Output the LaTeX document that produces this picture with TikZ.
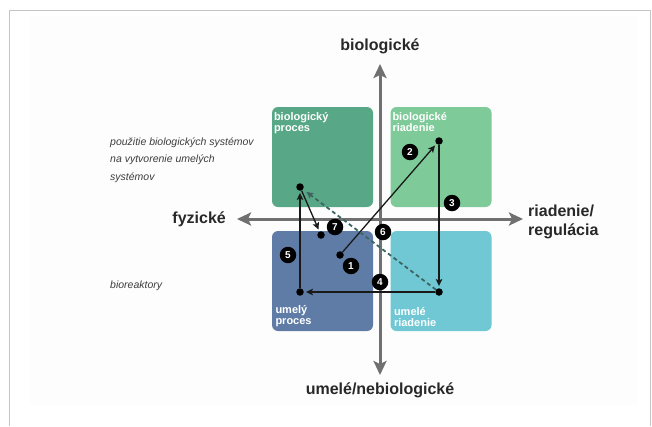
\documentclass[tikz,border=0pt]{standalone}
\usepackage{fontspec}
\setmainfont{Liberation Sans}
\usepackage{xcolor}
\usetikzlibrary{arrows,arrows.meta,positioning,calc}
\definecolor{bioproc}{RGB}{88,168,135}
\definecolor{bioctrl}{RGB}{126,202,153}
\definecolor{artproc}{RGB}{95,124,166}
\definecolor{artctrl}{RGB}{112,200,212}
\definecolor{axisgray}{RGB}{112,112,112}
\definecolor{framegray}{RGB}{196,196,196}
\definecolor{dashteal}{RGB}{62,100,98}
\definecolor{darktext}{RGB}{40,40,40}

\begin{document}
\begin{tikzpicture}[x=1pt, y=-1pt, >=stealth,
    quad/.style={rectangle, rounded corners=6pt, minimum width=101pt, minimum height=100pt, inner sep=0pt},
    quadlabel/.style={font=\bfseries\fontsize{11}{11}\selectfont, text=white, align=left, inner sep=0pt},
    dot/.style={circle, fill=black, inner sep=0pt, minimum size=7.5pt},
    badge/.style={circle, fill=black, text=white, font=\bfseries\fontsize{10}{10}\selectfont, inner sep=0pt, minimum size=16.5pt},
    axislabel/.style={font=\bfseries\fontsize{16}{19}\selectfont, text=darktext, align=left, inner sep=0pt},
    note/.style={font=\itshape\fontsize{10.5}{17.5}\selectfont, text=darktext!90, align=left, anchor=west, inner sep=0pt},
    axis/.style={-{Stealth[length=14pt, width=13pt, inset=3pt]}, line width=3pt, color=axisgray},
    link/.style={-{Stealth[length=7pt, width=6.5pt, inset=1.5pt]}, line width=1.3pt, color=black!90, shorten >=2pt}]
    \useasboundingbox (0,0) rectangle (652,426);
    % frame and faint panel
    \fill[black!0.6] (30,16) rectangle (637,405);
    \draw[line width=1.2pt, color=framegray] (9.5,426) -- (9.5,10.5) -- (650.5,10.5) -- (650.5,426);

    % quadrants
    \node[quad, fill=bioproc] (tl) at (322.5,157) {};
    \node[quad, fill=bioctrl] (tr) at (441,157) {};
    \node[quad, fill=artproc] (bl) at (322.5,281) {};
    \node[quad, fill=artctrl] (br) at (441,281) {};

    \node[quadlabel, anchor=north west, below right=5pt and 2pt of tl.north west] {biologický\\proces};
    \node[quadlabel, anchor=north west, below right=5pt and 2pt of tr.north west] {biologické\\riadenie};
    \node[quadlabel, anchor=south west, above right=4pt and 3.5pt of bl.south west] {umelý\\proces};
    \node[quadlabel, anchor=south west, above right=4pt and 3.5pt of br.south west] {umelé\\riadenie};

    % axes
    \coordinate (vtop) at (380,64);
    \coordinate (vbot) at (380,375);
    \coordinate (hleft) at (237,219);
    \coordinate (hright) at (523,219);
    \coordinate (orig) at (380,219);
    \draw[axis] (orig) -- (vtop);
    \draw[axis] (orig) -- (vbot);
    \draw[axis] (orig) -- (hleft);
    \draw[axis] (orig) -- (hright);

    \node[axislabel, above=10pt of vtop] (lbio) {biologické};
    \node[axislabel, below=8pt of vbot] (lart) {umelé/nebiologické};
    \node[axislabel, left=11pt of hleft] (lphys) {fyzické};
    \node[axislabel, right=5pt of hright, yshift=-3pt] (lctrl) {riadenie/\\regulácia};

    \node[note] (nuse) at (110,160) {použitie biologických systémov\\na vytvorenie umelých\\systémov};
    \node[note] (nreact) at (110,286) {bioreaktory};

    % points
    \node[dot] (bp) at (300,187) {};
    \node[dot] (bc) at (439,141) {};
    \node[dot] (p7) at (321,235) {};
    \node[dot] (p1) at (340,255) {};
    \node[dot] (ap) at (300,292) {};
    \node[dot] (ac) at (439,292) {};

    % cycle
    \draw[link] (p1) -- (bc);
    \draw[link] (bc) -- (ac);
    \draw[link] (ac) -- (ap);
    \draw[link] (ap) -- (bp);
    \draw[link] (bp) -- (p7);
    \draw[-{Stealth[length=7pt, width=6.5pt, inset=1.5pt]}, line width=1.8pt, color=dashteal, dash pattern=on 4pt off 3pt, shorten >=4pt] (ac) -- (bp);

    % steps
    \node[badge] (s1) at (351,266) {1};
    \node[badge] (s2) at (410,152) {2};
    \node[badge] (s3) at (452,203) {3};
    \node[badge] (s4) at (380,282) {4};
    \node[badge] (s5) at (288,255) {5};
    \node[badge] (s6) at (383,232) {6};
    \node[badge] (s7) at (335,227) {7};
\end{tikzpicture}
\end{document}
